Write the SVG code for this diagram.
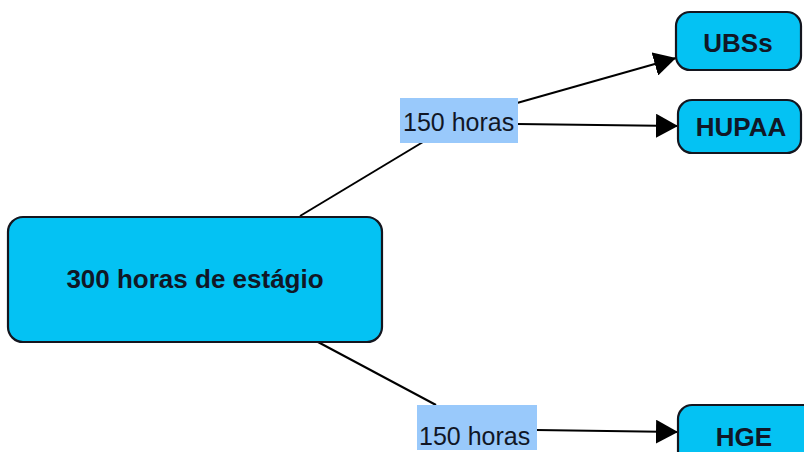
<svg xmlns="http://www.w3.org/2000/svg" width="804" height="452" viewBox="0 0 804 452">
<defs>
<style>
.node{fill:#04c2f3;stroke:#14161f;stroke-width:2.2}
.lbl{fill:#99c9fb}
.bt{font-family:"Liberation Sans",Arial,sans-serif;font-weight:bold;font-size:26px;fill:#111726;text-anchor:middle}
.lt{font-family:"Liberation Sans",Arial,sans-serif;font-size:25px;fill:#111726}
.edge{stroke:#000;stroke-width:2;fill:none}
</style>
<marker id="arr" viewBox="0 0 22 24" refX="22" refY="12" markerWidth="22" markerHeight="24" markerUnits="userSpaceOnUse" orient="auto">
<path d="M0,0 L22,12 L0,24 Z" fill="#000"/>
</marker>
</defs>
<rect width="804" height="452" fill="#fff"/>
<g id="connectors">
<line class="edge" x1="300" y1="216" x2="423" y2="142"/>
<line class="edge" x1="318" y1="342" x2="436" y2="405"/>
<line class="edge" x1="517" y1="103" x2="676" y2="58" marker-end="url(#arr)"/>
<line class="edge" x1="517" y1="124" x2="678" y2="126" marker-end="url(#arr)"/>
<line class="edge" x1="536" y1="430" x2="678" y2="432" marker-end="url(#arr)"/>
</g>
<g id="label1">
<rect class="lbl" x="400" y="98" width="118" height="45"/>
<text class="lt" x="403" y="131">150 horas</text>
</g>
<g id="label2">
<rect class="lbl" x="417" y="405" width="120" height="45"/>
<text class="lt" x="419" y="445">150 horas</text>
</g>
<g id="main">
<rect class="node" x="8" y="217" width="374" height="125" rx="15"/>
<text class="bt" x="195" y="288">300 horas de estágio</text>
</g>
<g id="ubss">
<rect class="node" x="676" y="12" width="125" height="58" rx="14"/>
<text class="bt" x="738" y="52">UBSs</text>
</g>
<g id="hupaa">
<rect class="node" x="678" y="100" width="123" height="53" rx="14"/>
<text class="bt" x="741" y="136">HUPAA</text>
</g>
<g id="hge">
<rect class="node" x="678" y="405" width="140" height="60" rx="14"/>
<text class="bt" x="744" y="446">HGE</text>
</g>
</svg>
